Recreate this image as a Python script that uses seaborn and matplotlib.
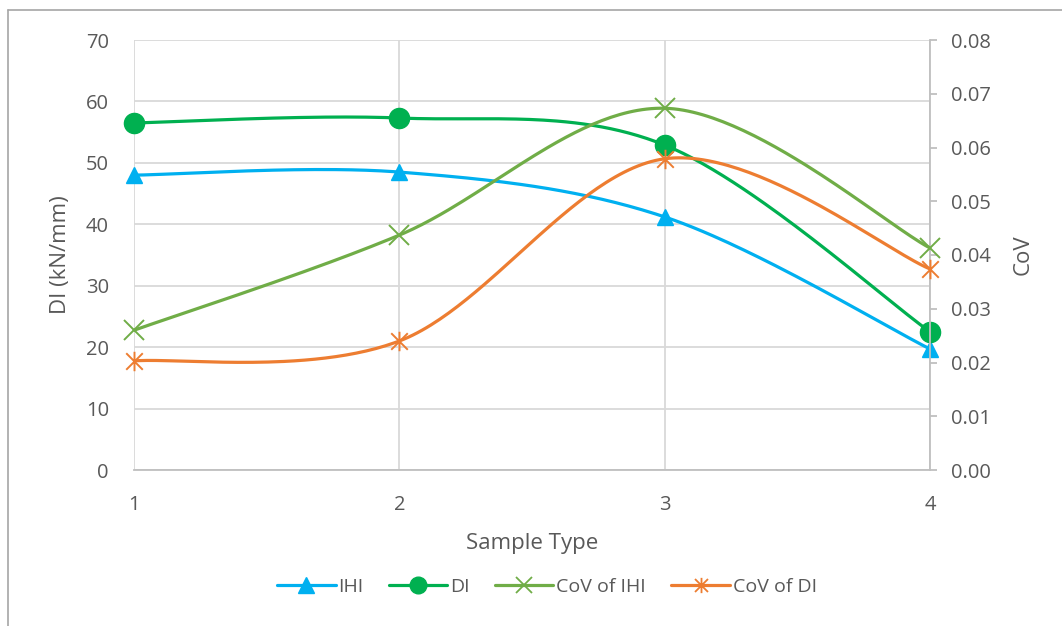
import numpy as np
import pandas as pd
import matplotlib
matplotlib.use("Agg")
import matplotlib.pyplot as plt
from matplotlib.lines import Line2D
from matplotlib.path import Path
import seaborn as sns

# Chart data
sample_types = [1, 2, 3, 4]
ihi = [48.0, 48.5, 41.2, 19.7]
di = [56.5, 57.3, 52.9, 22.5]
cov_ihi = [0.0260, 0.0437, 0.0673, 0.0413]
cov_di = [0.0203, 0.0240, 0.0579, 0.0374]

left_ticks = list(range(0, 71, 10))
right_ticks = [0.00, 0.01, 0.02, 0.03, 0.04, 0.05, 0.06, 0.07, 0.08]

sns.set_theme(style="white")
plt.rcParams["font.family"] = ["Open Sans", "DejaVu Sans"]

TXT = "#595959"
GRID = "#D9D9D9"
AXIS = "#BFBFBF"
C_IHI = "#00B0F0"
C_DI = "#00B050"
C_CIHI = "#70AD47"
C_CDI = "#ED7D31"

# Excel-style star marker: an "x" with a vertical bar through it
star = Path([(-0.85, -0.85), (0.85, 0.85), (-0.85, 0.85), (0.85, -0.85), (0, -1), (0, 1)],
            [Path.MOVETO, Path.LINETO, Path.MOVETO, Path.LINETO, Path.MOVETO, Path.LINETO])


def smooth(xs, ys, n=60):
    """Cubic Bezier smoothing through every point (Catmull-Rom control points)."""
    p = np.column_stack([xs, ys]).astype(float)
    p = np.vstack([p[0], p, p[-1]])
    out = []
    for i in range(1, len(p) - 2):
        p0, p1, p2, p3 = p[i - 1], p[i], p[i + 1], p[i + 2]
        c1 = p1 + (p2 - p0) / 6.0
        c2 = p2 - (p3 - p1) / 6.0
        t = np.linspace(0, 1, n)[:, None]
        seg = ((1 - t) ** 3) * p1 + 3 * ((1 - t) ** 2) * t * c1 + 3 * (1 - t) * t ** 2 * c2 + t ** 3 * p2
        out.append(seg if i == 1 else seg[1:])
    s = np.vstack(out)
    return pd.DataFrame({"x": s[:, 0], "y": s[:, 1], "o": np.arange(len(s))})


fig = plt.figure(figsize=(10.62, 6.26), dpi=100)
ax = fig.add_axes([134 / 1062, 1 - 470 / 626, (930 - 134) / 1062, (470 - 40) / 626])
ax2 = ax.twinx()

lw = 2.3
series_left = [(ihi, C_IHI, "^", 12, "IHI"), (di, C_DI, "o", 14.5, "DI")]
series_right = [(cov_ihi, C_CIHI, "x", 14, "CoV of IHI"), (cov_di, C_CDI, star, 14, "CoV of DI")]

for vals, col, mk, ms, name in series_left:
    d = smooth(sample_types, vals)
    sns.lineplot(data=d, x="x", y="y", sort=False, estimator=None, color=col, lw=lw, ax=ax, zorder=3)
    ax.plot(sample_types, vals, ls="none", marker=mk, ms=ms, color=col, mec=col, zorder=4, clip_on=False)

for vals, col, mk, ms, name in series_right:
    d = smooth(sample_types, vals)
    sns.lineplot(data=d, x="x", y="y", sort=False, estimator=None, color=col, lw=lw, ax=ax2, zorder=3)
    ax2.plot(sample_types, vals, ls="none", marker=mk, ms=ms, color=col, mec=col, mew=1.4,
             zorder=4, clip_on=False)

ax.set_xlim(1, 4)
ax.set_ylim(0, 70)
ax2.set_ylim(0, 0.08)
ax.set_xticks(sample_types)
ax.set_yticks(left_ticks)
ax2.set_yticks(right_ticks)
ax2.set_yticklabels([f"{v:.2f}" for v in right_ticks])

ax.grid(True, axis="both", color=GRID, lw=1.3)
ax.set_axisbelow(True)
for s in ["top", "left", "right"]:
    ax.spines[s].set_visible(False)
ax.spines["bottom"].set_color(AXIS)
ax.spines["bottom"].set_linewidth(1.3)
for s in ["top", "left", "bottom"]:
    ax2.spines[s].set_visible(False)
ax2.spines["right"].set_color(AXIS)
ax2.spines["right"].set_linewidth(1.3)

ax.tick_params(axis="x", length=0, pad=18, labelsize=14.5, labelcolor=TXT)
ax.tick_params(axis="y", length=0, pad=18, labelsize=14.5, labelcolor=TXT)
ax2.tick_params(axis="y", right=True, length=5, width=1.3, color=AXIS, pad=10, labelsize=14.5, labelcolor=TXT)

ax.set_xlabel("Sample Type", fontsize=16, color=TXT, labelpad=13)
ax.set_ylabel("DI (kN/mm)", fontsize=16, color=TXT, labelpad=11)
ax2.set_ylabel("CoV", fontsize=16, color=TXT, labelpad=16)

handles = [
    Line2D([], [], color=C_IHI, lw=lw, marker="^", ms=11, mec=C_IHI),
    Line2D([], [], color=C_DI, lw=lw, marker="o", ms=12, mec=C_DI),
    Line2D([], [], color=C_CIHI, lw=lw, marker="x", ms=11, mew=1.3),
    Line2D([], [], color=C_CDI, lw=lw, marker=star, ms=11, mew=1.3),
]
labels = [s[4] for s in series_left + series_right]
leg = fig.legend(handles, labels, loc="center", bbox_to_anchor=(547 / 1062, 1 - 587 / 626), ncol=4,
                 frameon=False, fontsize=14, handlelength=3.0, handletextpad=0.15,
                 columnspacing=1.3, numpoints=1)
for t in leg.get_texts():
    t.set_color(TXT)

# Chart-area frame
fig.add_artist(Line2D([8 / 1062, 8 / 1062], [0, 1 - 10 / 626], transform=fig.transFigure, color="#A6A6A6", lw=1.2))
fig.add_artist(Line2D([8 / 1062, 1], [1 - 10 / 626, 1 - 10 / 626], transform=fig.transFigure, color="#A6A6A6", lw=1.2))

fig.savefig("out.png", dpi=100)
